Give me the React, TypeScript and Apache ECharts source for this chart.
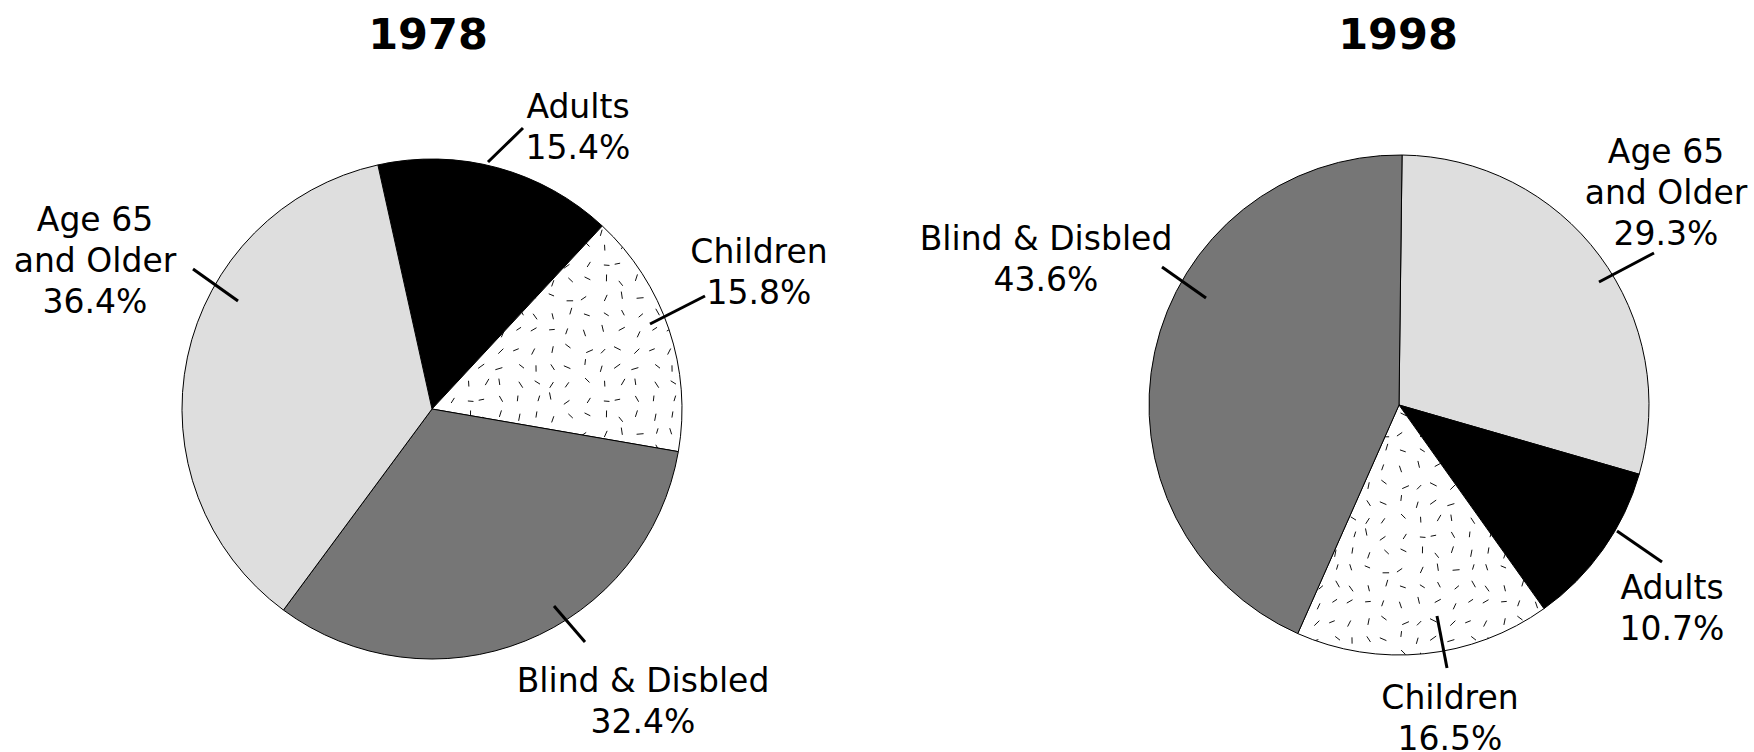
import React, { useEffect, useRef } from 'react';
import * as echarts from 'echarts';

// ---------- data ----------
const titles = ['1978', '1998'];
const categories1978 = ['Adults', 'Children', 'Blind & Disbled', 'Age 65\nand Older'];
const values1978 = [15.4, 15.8, 32.4, 36.4];
const categories1998 = ['Age 65\nand Older', 'Adults', 'Children', 'Blind & Disbled'];
const values1998 = [29.3, 10.7, 16.5, 43.6];

// ---------- layout / style ----------
const pieCenters = [[432, 409], [1399, 405]];
const pieRadius = 250;
const startAngles = [102.5, 89.3];
const titleCenters = [[428, 34], [1398, 34]];

const labelCenters1978 = [[578, 127], [759, 272], [643, 701], [95, 260]];
const labelLines1978 = [
  [[488, 162], [523, 128]],
  [[650, 324], [705, 296]],
  [[554, 606], [585, 642]],
  [[238, 301], [193, 269]],
];
const labelCenters1998 = [[1666, 192], [1672, 608], [1450, 718], [1046, 259]];
const labelLines1998 = [
  [[1599, 282], [1654, 253]],
  [[1617, 531], [1662, 562]],
  [[1437, 616], [1447, 668]],
  [[1162, 267], [1206, 298]],
];

const LIGHT = '#dedede';
const DARK = '#767676';
const BLACK = '#000000';
const FONT = '"DejaVu Sans", "Liberation Sans", sans-serif';

function makeTexture(): HTMLCanvasElement {
  const size = 136;
  const cell = 17;
  const c = document.createElement('canvas');
  c.width = size;
  c.height = size;
  const ctx = c.getContext('2d') as CanvasRenderingContext2D;
  ctx.fillStyle = '#ffffff';
  ctx.fillRect(0, 0, size, size);
  let s = 20240611;
  const rnd = () => {
    s = (Math.imul(s, 1664525) + 1013904223) >>> 0;
    return s / 4294967296;
  };
  ctx.strokeStyle = '#111111';
  ctx.lineWidth = 1;
  for (let gy = 0; gy < size / cell; gy++) {
    for (let gx = 0; gx < size / cell; gx++) {
      const cx = gx * cell + 5 + rnd() * 7;
      const cy = gy * cell + 5 + rnd() * 7;
      const a = rnd() * Math.PI;
      const L = 5.5 + rnd() * 2;
      const dx = (Math.cos(a) * L) / 2;
      const dy = (Math.sin(a) * L) / 2;
      ctx.beginPath();
      ctx.moveTo(cx - dx, cy - dy);
      ctx.lineTo(cx + dx, cy + dy);
      ctx.stroke();
    }
  }
  return c;
}

export default function App() {
  const ref = useRef<HTMLDivElement>(null);

  useEffect(() => {
    if (!ref.current) return;
    const chart = echarts.init(ref.current, null, { renderer: 'svg' });
    const texture = { image: makeTexture(), repeat: 'repeat' } as any;

    const fillFor = (name: string): any => {
      if (name === 'Adults') return BLACK;
      if (name === 'Children') return texture;
      if (name === 'Blind & Disbled') return DARK;
      return LIGHT;
    };

    // base pie: filled slices, no labels
    const baseSeries = (idx: number, cats: string[], vals: number[]) => ({
      type: 'pie',
      name: titles[idx],
      z: 2,
      center: pieCenters[idx],
      radius: pieRadius,
      startAngle: startAngles[idx],
      clockwise: true,
      silent: true,
      data: cats.map((n, i) => ({
        name: n,
        value: vals[i],
        itemStyle: { color: fillFor(n) },
      })),
      itemStyle: { borderColor: '#000', borderWidth: 1 },
      label: { show: false },
      labelLine: { show: false },
      emphasis: { disabled: true },
    });

    // overlay pie: transparent slices carrying labels and guide lines above the fills
    const labelSeries = (
      idx: number,
      cats: string[],
      vals: number[],
      labelCenters: number[][],
      labelLines: number[][][]
    ) => ({
      type: 'pie',
      name: titles[idx] + ' labels',
      z: 5,
      center: pieCenters[idx],
      radius: pieRadius,
      startAngle: startAngles[idx],
      clockwise: true,
      avoidLabelOverlap: false,
      silent: true,
      data: cats.map((n, i) => ({ name: n, value: vals[i] })),
      itemStyle: { color: 'rgba(0,0,0,0)', borderWidth: 0 },
      label: {
        show: true,
        position: 'outside',
        formatter: (p: any) => `${p.name}\n${p.value}%`,
        color: '#000',
        fontFamily: FONT,
        fontSize: 33,
        lineHeight: 41,
        align: 'center',
      },
      labelLine: {
        show: true,
        showAbove: true,
        smooth: false,
        lineStyle: { color: '#000', width: 3, cap: 'butt' },
      },
      labelLayout: (params: any) => {
        const i = params.dataIndex;
        const [lx, ly] = labelCenters[i];
        const [[x0, y0], [x1, y1]] = labelLines[i];
        return {
          x: lx,
          y: ly,
          align: 'center',
          verticalAlign: 'middle',
          labelLinePoints: [
            [x0, y0],
            [(x0 + x1) / 2, (y0 + y1) / 2],
            [x1, y1],
          ],
        };
      },
      emphasis: { disabled: true },
    });

    chart.setOption({
      animation: false,
      backgroundColor: '#ffffff',
      graphic: titles.map((t, i) => ({
        type: 'text',
        x: titleCenters[i][0],
        y: titleCenters[i][1],
        style: {
          text: t,
          fill: '#000',
          fontFamily: FONT,
          fontWeight: 'bold',
          fontSize: 43,
          align: 'center',
          verticalAlign: 'middle',
        },
      })),
      series: [
        baseSeries(0, categories1978, values1978),
        baseSeries(1, categories1998, values1998),
        labelSeries(0, categories1978, values1978, labelCenters1978, labelLines1978),
        labelSeries(1, categories1998, values1998, labelCenters1998, labelLines1998),
      ],
    });

    return () => chart.dispose();
  }, []);

  return (
    <div
      ref={ref}
      style={{ position: 'absolute', left: 0, top: 0, width: 1754, height: 752 }}
    />
  );
}
